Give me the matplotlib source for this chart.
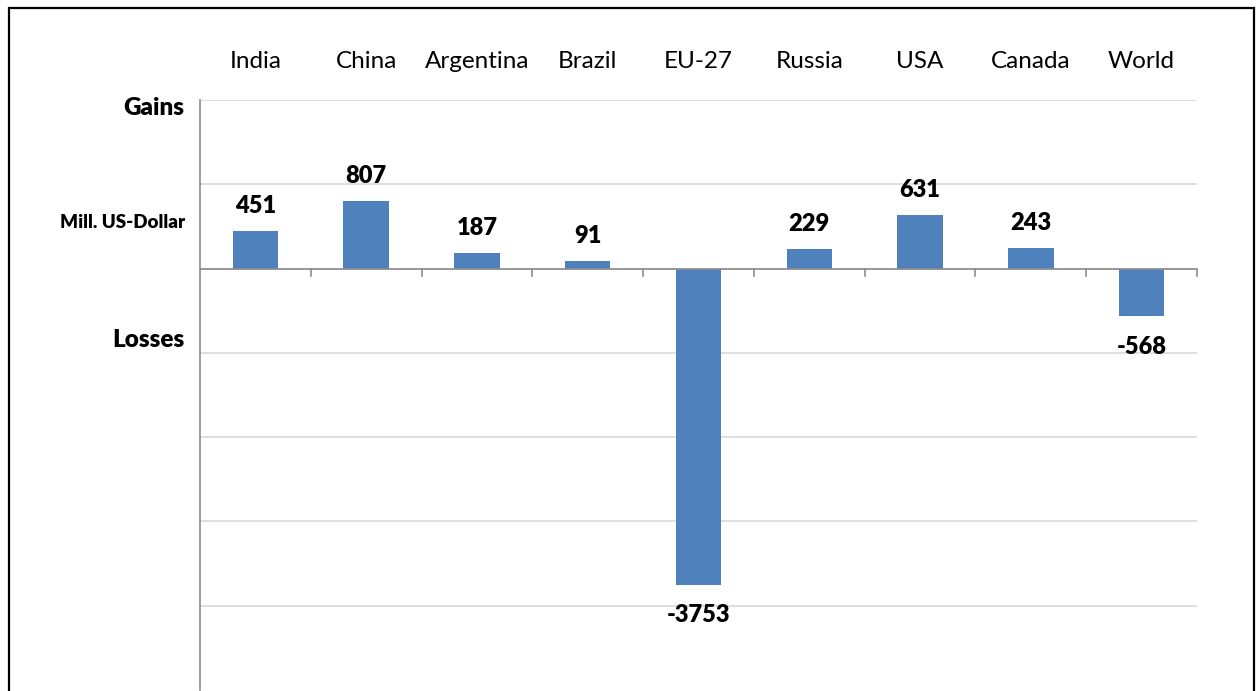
import matplotlib
matplotlib.use("Agg")
import matplotlib.pyplot as plt
import matplotlib.transforms as mtransforms
from matplotlib.patches import Rectangle
import numpy as np

categories = ["India", "China", "Argentina", "Brazil", "EU-27", "Russia", "USA", "Canada", "World"]
values = [451, 807, 187, 91, -3753, 229, 631, 243, -568]
y_ticks = [2000, 1000, 0, -1000, -2000, -3000, -4000]

plt.rcParams['font.family'] = ['Lato', 'DejaVu Sans']

W, H = 1256, 691
fig = plt.figure(figsize=(W / 100, H / 100), dpi=100)
ax = fig.add_axes([200 / W, 1 - 690 / H, (1197 - 200) / W, (690 - 100) / H])

x = np.arange(len(categories))
bar_color = "#4F81BD"
ax.bar(x, values, width=0.41, color=bar_color, zorder=3)

ax.set_xlim(-0.5, len(categories) - 0.5)
ax.set_ylim(-5000, 2000)
ax.set_yticks(y_ticks)
ax.yaxis.grid(True, color="#D9D9D9", linewidth=1.2, zorder=0)
ax.set_axisbelow(True)
ax.tick_params(axis="both", length=0, labelleft=False, labelbottom=False)
for s in ["top", "right", "bottom"]:
    ax.spines[s].set_visible(False)
ax.spines["left"].set_color("#8C8C8C")
ax.spines["left"].set_linewidth(1.2)

# zero line and category boundary ticks
ax.axhline(0, color="#8C8C8C", linewidth=1.2, zorder=4)
trans_tick = mtransforms.blended_transform_factory(ax.transData, ax.transAxes)
zero_ax = (0 - (-5000)) / 7000
for b in np.arange(len(categories)) + 0.5:
    ax.plot([b, b], [zero_ax, zero_ax - 7 / 590], transform=trans_tick,
            color="#8C8C8C", linewidth=1.2, zorder=4, clip_on=False)

# value labels
for xi, v in zip(x, values):
    if v >= 0:
        ax.annotate(f"{v}", (xi, v), xytext=(0, 18), textcoords="offset points",
                    ha="center", va="center", fontsize=17, fontweight="heavy")
    else:
        ax.annotate(f"{v}", (xi, v), xytext=(0, -22), textcoords="offset points",
                    ha="center", va="center", fontsize=17, fontweight="heavy")

# category labels on top
trans_cat = mtransforms.blended_transform_factory(ax.transData, fig.transFigure)
for xi, c in zip(x, categories):
    ax.text(xi, 1 - 61 / H, c, transform=trans_cat, ha="center", va="center", fontsize=17.5)

# left side annotations
fig.text(184 / W, 1 - 108 / H, "Gains", ha="right", va="center", fontsize=17.5, fontweight="heavy")
fig.text(185 / W, 1 - 222 / H, "Mill. US-Dollar", ha="right", va="center", fontsize=13.5, fontweight="heavy")
fig.text(184 / W, 1 - 340 / H, "Losses", ha="right", va="center", fontsize=17.5, fontweight="heavy")

# outer frame
fig.patches.append(Rectangle((8.5 / W, -0.1), (1254 - 8.5) / W, 1.1 - 8.5 / H,
                             transform=fig.transFigure, fill=False,
                             edgecolor="black", linewidth=1.6))

fig.savefig("out.png", dpi=100)
